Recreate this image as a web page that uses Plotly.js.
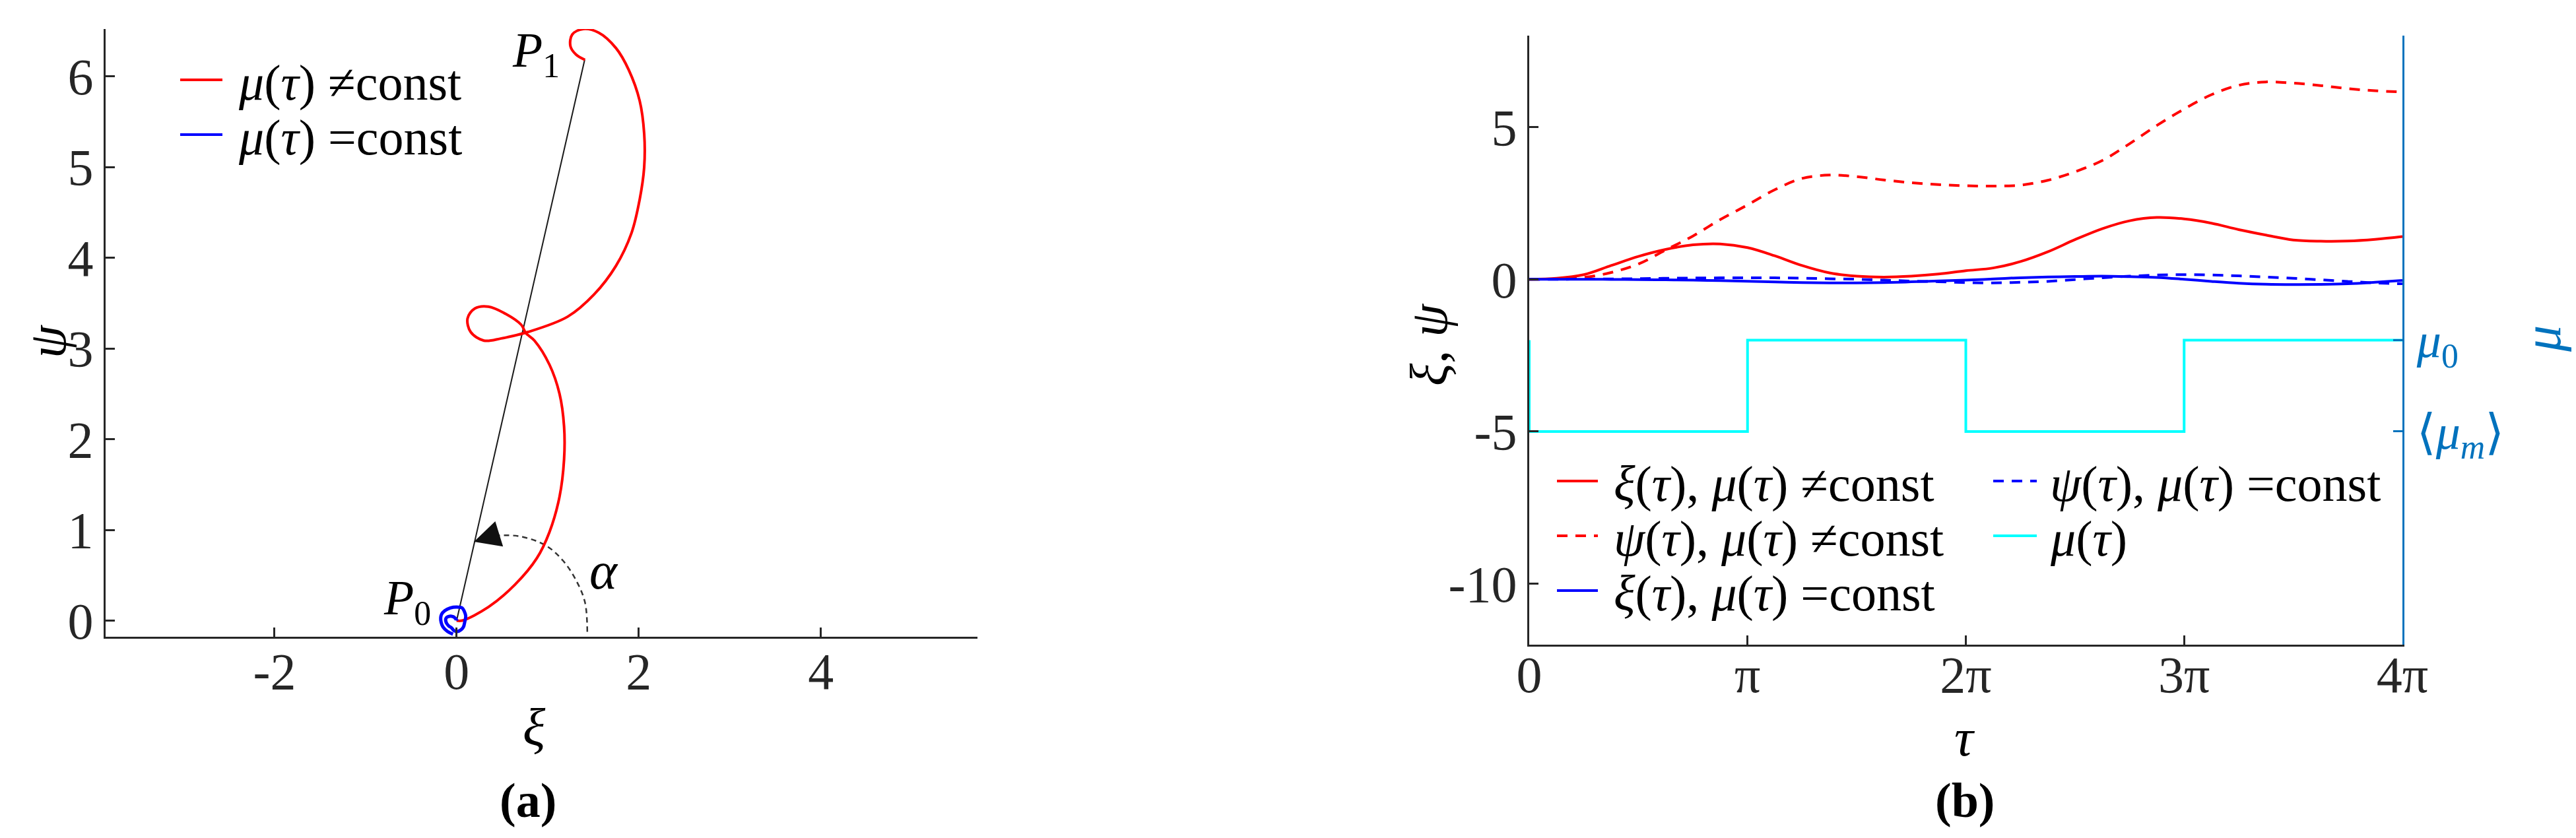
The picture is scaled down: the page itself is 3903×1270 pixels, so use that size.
<!DOCTYPE html>
<html>
<head>
<meta charset="utf-8">
<script src="https://cdn.plot.ly/plotly-3.0.1.min.js"></script>
<style>
  html, body { margin: 0; padding: 0; background: #fff; }
  #plot { width: 3903px; height: 1270px; }
</style>
</head>
<body>
<div id="plot"></div>
<script>
// ---- panel (a): trajectory in the (xi, psi) plane, mu(tau) != const
const trajXi = [0, 0.06, 0.35, 0.64, 0.88, 1.02, 1.13, 1.18, 1.18, 1.13, 1.02, 0.855, 0.76,
  0.71, 0.54, 0.35, 0.20, 0.12, 0.155, 0.30, 0.49, 0.78, 1.22, 1.51, 1.75, 1.92, 2.01,
  2.06, 2.06, 2.01, 1.89, 1.75, 1.56, 1.39, 1.27, 1.25, 1.31, 1.41];
const trajPsi = [0, 0.0, 0.15, 0.395, 0.686, 0.977, 1.365, 1.777, 2.14, 2.50, 2.82, 3.086, 3.17,
  3.26, 3.38, 3.46, 3.44, 3.33, 3.18, 3.086, 3.11, 3.18, 3.35, 3.595, 3.91, 4.27, 4.64,
  5.0, 5.365, 5.73, 6.07, 6.31, 6.48, 6.52, 6.46, 6.33, 6.24, 6.18];

// chord P0 -> P1 and the dashed angle arc alpha
const chordXi = [0, 1.406];
const chordPsi = [0, 6.18];
const arcXi = [1.435, 1.41, 1.314, 1.169, 0.976, 0.686, 0.40];
const arcPsi = [-0.124, 0.2, 0.44, 0.66, 0.83, 0.93, 0.935];

// ---- panel (b): time series, tau in units of pi
const tauOverPi = [0, 0.125, 0.25, 0.375, 0.5, 0.625, 0.75, 0.875, 1, 1.125, 1.25, 1.375, 1.5,
  1.625, 1.75, 1.875, 2, 2.125, 2.25, 2.375, 2.5, 2.625, 2.75, 2.875, 3, 3.125, 3.25,
  3.375, 3.5, 3.625, 3.75, 3.875, 4];
const xiVar = [0, 0.03, 0.15, 0.45, 0.75, 0.98, 1.13, 1.16, 1.04, 0.77, 0.45, 0.21, 0.1,
  0.07, 0.1, 0.17, 0.28, 0.37, 0.58, 0.9, 1.3, 1.66, 1.92, 2.03, 1.98, 1.84, 1.63,
  1.45, 1.29, 1.25, 1.255, 1.31, 1.40];
const psiVar = [0, 0.01, 0.06, 0.22, 0.5, 0.96, 1.42, 1.96, 2.44, 2.94, 3.31, 3.42, 3.37,
  3.26, 3.17, 3.11, 3.07, 3.06, 3.09, 3.25, 3.53, 3.9, 4.45, 5.05, 5.59, 6.06, 6.37,
  6.48, 6.44, 6.36, 6.26, 6.19, 6.15];
const xiConst = [0, 0, 0, -0.005, -0.01, -0.02, -0.03, -0.045, -0.065, -0.09, -0.11, -0.12, -0.12,
  -0.11, -0.085, -0.055, -0.03, 0.01, 0.05, 0.075, 0.09, 0.1, 0.085, 0.06, 0, -0.07, -0.13,
  -0.165, -0.175, -0.17, -0.15, -0.1, -0.04];
const psiConst = [0, 0, 0.005, 0.01, 0.02, 0.03, 0.04, 0.045, 0.05, 0.045, 0.035, 0.015, 0,
  -0.03, -0.06, -0.08, -0.11, -0.12, -0.1, -0.07, -0.01, 0.05, 0.1, 0.14, 0.15, 0.14, 0.11,
  0.07, 0.03, -0.02, -0.07, -0.12, -0.15];

// mu(tau): square wave between <mu_m> (0) and mu_0 (1), right axis
const muTauOverPi = [0, 0, 1, 2, 3, 4];
const muLevel = [1, 0, 1, 0, 1, 1];

const tau = tauOverPi.map(t => t * Math.PI);
const muTau = muTauOverPi.map(t => t * Math.PI);

const W = 3903, H = 1270;
const px = v => v / W;
const py = v => 1 - v / H;
const font = '"Liberation Serif", "DejaVu Serif", serif';
const axisColor = '#262626';
const matlabBlue = '#0072BD';

const red = '#ff0000', blue = '#0000ff', cyan = '#00ffff';
const dashed = '16px,12px';
const lblNe = '<i>μ</i>(<i>τ</i>) ≠const';
const lblEq = '<i>μ</i>(<i>τ</i>) =const';

const styles = {
  xiVar: { color: red, width: 4 },
  psiVar: { color: red, width: 4, dash: dashed },
  xiConst: { color: blue, width: 4 },
  psiConst: { color: blue, width: 4, dash: dashed },
  mu: { color: cyan, width: 4 }
};

const traces = [
  { x: chordXi, y: chordPsi, mode: 'lines', line: { color: '#1a1a1a', width: 2 } },
  { x: arcXi, y: arcPsi, mode: 'lines', line: { color: '#333', width: 2.5, dash: '8px,6px', shape: 'spline' } },
  { x: trajXi, y: trajPsi, mode: 'lines', line: { color: red, width: 4, shape: 'spline', smoothing: 1 } },
  { x: xiConst, y: psiConst, mode: 'lines', line: { color: blue, width: 5, shape: 'spline', smoothing: 1 } },

  { x: tau, y: xiVar, xaxis: 'x2', yaxis: 'y2', mode: 'lines', line: Object.assign({ shape: 'spline' }, styles.xiVar) },
  { x: tau, y: psiVar, xaxis: 'x2', yaxis: 'y2', mode: 'lines', line: Object.assign({ shape: 'spline' }, styles.psiVar) },
  { x: tau, y: xiConst, xaxis: 'x2', yaxis: 'y2', mode: 'lines', line: Object.assign({ shape: 'spline' }, styles.xiConst) },
  { x: tau, y: psiConst, xaxis: 'x2', yaxis: 'y2', mode: 'lines', line: Object.assign({ shape: 'spline' }, styles.psiConst) },
  { x: muTau, y: muLevel, xaxis: 'x2', yaxis: 'y3', mode: 'lines', line: Object.assign({ shape: 'hv' }, styles.mu) }
].map(t => Object.assign(t, { showlegend: false, hoverinfo: 'skip' }));

const tickFont = { family: font, size: 78, color: axisColor };
const baseAxis = {
  showgrid: false, zeroline: false, showline: true, linecolor: axisColor, linewidth: 3,
  ticks: 'inside', ticklen: 14, tickwidth: 3, tickcolor: axisColor, tickfont: tickFont,
  fixedrange: true
};

const ann = (x, y, text, extra) => Object.assign({
  xref: 'paper', yref: 'paper', x: px(x), y: py(y), text, showarrow: false,
  xanchor: 'center', yanchor: 'middle', font: { family: font, size: 80, color: '#000' }
}, extra || {});

// legend keys drawn by hand (MATLAB-style: long samples, tight rows, two columns)
const legendItems = [
  { x0: 273, x1: 337, tx: 359, y: 121, text: lblNe, line: { color: red, width: 4 } },
  { x0: 273, x1: 337, tx: 359, y: 204, text: lblEq, line: { color: blue, width: 4 } },
  { x0: 2359, x1: 2421, tx: 2443, y: 729, text: '<i>ξ</i>(<i>τ</i>), ' + lblNe, line: styles.xiVar },
  { x0: 2359, x1: 2421, tx: 2443, y: 812, text: '<i>ψ</i>(<i>τ</i>), ' + lblNe, line: styles.psiVar },
  { x0: 2359, x1: 2421, tx: 2443, y: 895, text: '<i>ξ</i>(<i>τ</i>), ' + lblEq, line: styles.xiConst },
  { x0: 3020, x1: 3086, tx: 3104, y: 729, text: '<i>ψ</i>(<i>τ</i>), ' + lblEq, line: styles.psiConst },
  { x0: 3020, x1: 3086, tx: 3104, y: 812, text: '<i>μ</i>(<i>τ</i>)', line: styles.mu }
];
const legendShapes = legendItems.map(it => ({
  type: 'line', xref: 'paper', yref: 'paper',
  x0: px(it.x0), x1: px(it.x1), y0: py(it.y), y1: py(it.y), line: it.line
}));
const legendTexts = legendItems.map(it => ann(it.tx, it.y + 4, it.text,
  { xanchor: 'left', font: { family: font, size: 76, color: '#000' } }));

const layout = {
  width: W, height: H,
  margin: { l: 0, r: 0, t: 0, b: 0, pad: 0 },
  paper_bgcolor: '#fff', plot_bgcolor: 'rgba(0,0,0,0)',
  font: { family: font, color: '#000' },
  showlegend: false,
  xaxis: Object.assign({}, baseAxis, {
    domain: [px(160), px(1481)], range: [-3.855, 5.72], anchor: 'y',
    tickvals: [-2, 0, 2, 4], ticktext: ['-2', '0', '2', '4'], ticklabelstandoff: -18
  }),
  yaxis: Object.assign({}, baseAxis, {
    domain: [py(965), py(44)], range: [-0.178, 6.52], anchor: 'x',
    tickvals: [0, 1, 2, 3, 4, 5, 6], ticklabelstandoff: 0
  }),
  xaxis2: Object.assign({}, baseAxis, {
    domain: [px(2317), px(3640)], range: [0, 4 * Math.PI], anchor: 'y2',
    tickvals: [0, 1, 2, 3, 4].map(k => k * Math.PI), ticktext: ['0', 'π', '2π', '3π', '4π'],
    ticklabelstandoff: -25
  }),
  yaxis2: Object.assign({}, baseAxis, {
    domain: [py(977), py(54)], range: [-12, 8], anchor: 'x2',
    tickvals: [-10, -5, 0, 5], ticktext: ['-10', '-5', '0', '5'], ticklabelstandoff: 0
  }),
  yaxis3: Object.assign({}, baseAxis, {
    overlaying: 'y2', side: 'right', anchor: 'x2', range: [-7 / 3, 13 / 3],
    linecolor: matlabBlue, tickcolor: matlabBlue,
    tickfont: { family: font, size: 74, color: matlabBlue },
    tickvals: [0, 1], ticktext: ['⟨<i>μ<sub>m</sub></i>⟩', '<i>μ</i><sub>0</sub>'], ticklabelstandoff: 4
  }),
  shapes: legendShapes,
  annotations: legendTexts.concat([
    ann(809, 1102, '<i>ξ</i>'),
    ann(72, 518, '<i>ψ</i>', { textangle: -90 }),
    ann(2977, 1118, '<i>τ</i>'),
    ann(2165, 523, '<i>ξ</i>, <i>ψ</i>', { textangle: -90 }),
    ann(3852, 514, '<i>μ</i>', { textangle: -90, font: { family: font, size: 80, color: matlabBlue } }),
    ann(800, 1213, '<b>(a)</b>', { font: { family: font, size: 74, color: '#000' } }),
    ann(2977, 1213, '<b>(b)</b>', { font: { family: font, size: 74, color: '#000' } }),
    { xref: 'x', yref: 'y', x: 0.87, y: 6.25, text: '<i>P</i><sub>1</sub>', showarrow: false,
      font: { family: font, size: 74, color: '#000' } },
    { xref: 'x', yref: 'y', x: -0.54, y: 0.21, text: '<i>P</i><sub>0</sub>', showarrow: false,
      font: { family: font, size: 74, color: '#000' } },
    { xref: 'x', yref: 'y', x: 1.62, y: 0.55, text: '<i>α</i>', showarrow: false,
      font: { family: font, size: 80, color: '#000' } },
    { xref: 'x', yref: 'y', x: 0.19, y: 0.87, axref: 'x', ayref: 'y', ax: 0.40, ay: 0.935,
      text: ' ', showarrow: true, arrowhead: 2, arrowsize: 4, arrowwidth: 2, arrowcolor: '#111' }
  ])
};

Plotly.newPlot('plot', traces, layout, { staticPlot: true, displayModeBar: false });
</script>
</body>
</html>
